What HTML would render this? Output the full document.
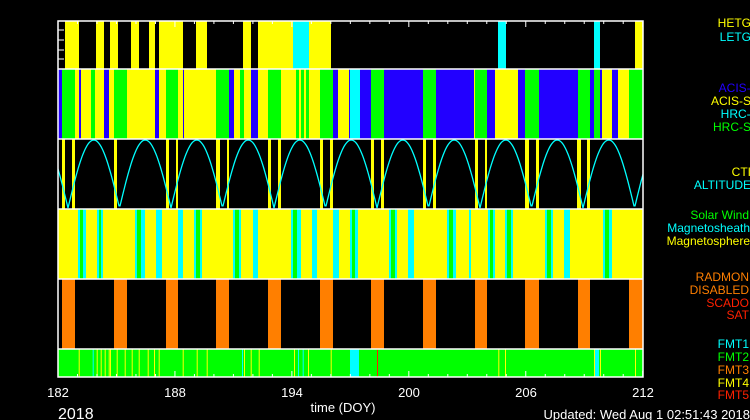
<!DOCTYPE html>
<html><head><meta charset="utf-8"><style>
html,body{margin:0;padding:0;background:#000;width:750px;height:420px;overflow:hidden}
svg{display:block}
text{font-family:"Liberation Sans",sans-serif}
</style></head><body>
<svg id="s" width="750" height="420" xmlns="http://www.w3.org/2000/svg">
<defs><clipPath id="c3"><rect x="58" y="139" width="585" height="70"/></clipPath></defs>
<g id="g"></g>
<path id="alt" clip-path="url(#c3)" fill="none" stroke="#00ffff" stroke-width="1.3"/>
<g fill="none" stroke="#fff" stroke-width="1.5">
<rect x="58" y="21" width="585" height="356"/>
<line x1="58" y1="69" x2="643" y2="69"/><line x1="58" y1="139" x2="643" y2="139"/>
<line x1="58" y1="209" x2="643" y2="209"/><line x1="58" y1="279" x2="643" y2="279"/>
<line x1="58" y1="349" x2="643" y2="349"/>
</g>
<g id="tk" stroke="#fff" stroke-width="1"></g>
<g font-size="13" fill="#fff" text-anchor="middle">
<text x="58" y="397">182</text><text x="175" y="397">188</text><text x="292" y="397">194</text>
<text x="409" y="397">200</text><text x="526" y="397">206</text><text x="643" y="397">212</text>
<text x="343" y="412">time (DOY)</text>
</g>
<text x="58" y="419" font-size="16" fill="#fff">2018</text>
<text x="750" y="419" font-size="13" fill="#fff" text-anchor="end">Updated: Wed Aug  1 02:51:43 2018</text>
<g font-size="12" text-anchor="end">
<text x="751" y="27" fill="#ffff00">HETG</text><text x="751" y="41" fill="#00ffff">LETG</text>
<text x="754" y="92" fill="#2200ff">ACIS-I</text><text x="751" y="105" fill="#ffff00">ACIS-S</text>
<text x="754" y="118" fill="#00ffff">HRC-I</text><text x="751" y="131" fill="#00ff00">HRC-S</text>
<text x="751" y="176" fill="#ffff00">CTI</text><text x="751" y="189" fill="#00ffff">ALTITUDE</text>
<text x="749" y="219" fill="#00ff00">Solar Wind</text><text x="750" y="232" fill="#00ffff">Magnetosheath</text><text x="750" y="245" fill="#ffff00">Magnetosphere</text>
<text x="749" y="281" fill="#ff7f00">RADMON</text><text x="749" y="294" fill="#ff7f00">DISABLED</text>
<text x="749" y="307" fill="#ff2000">SCADO</text><text x="749" y="319" fill="#ff2000">SAT</text>
<text x="749" y="348" fill="#00ffff">FMT1</text><text x="749" y="361" fill="#00ff00">FMT2</text>
<text x="749" y="374" fill="#ff7f00">FMT3</text><text x="749" y="387" fill="#ffff00">FMT4</text>
<text x="749" y="399" fill="#ff2000">FMT5</text>
</g>
</svg>
<script>
var Y='#ffff00',G='#00ff00',B='#2200ff',C='#00ffff',O='#ff7f00',R='#ff2000';
var g=document.getElementById('g'),ns='http://www.w3.org/2000/svg';
function r(x1,x2,y1,y2,c){var e=document.createElementNS(ns,'rect');e.setAttribute('x',x1);e.setAttribute('y',y1);e.setAttribute('width',Math.max(x2-x1,0.8));e.setAttribute('height',y2-y1);e.setAttribute('fill',c);g.appendChild(e);}
// panel1
[[65,79,Y],[96,104,Y],[110,118,Y],[131,139,Y],[149,155,Y],[159,183,Y],[196,207,Y],[243,251,Y],[258,293,Y],[293,309,C],[309,331,Y],[498,506,C],[594,600,C],[635,643,Y]].forEach(function(a){r(a[0],a[1],21,69,a[2]);});
// panel2
[[58,62,B],[62,75,G],[75,79,Y],[79,81,B],[81,91,Y],[91,95,G],[95,104,Y],[104,109,B],[109,114,Y],[114,127,G],[127,155,Y],[155,159,B],[159,166,Y],[166,178,G],[178,183,Y],[183,184,B],[184,216,Y],[216,229,G],[229,234,B],[234,240,Y],[240,244,G],[244,251,Y],[251,258,B],[258,268,Y],[268,281,G],[281,296,Y],[296,299,G],[299,301,Y],[301,304,G],[304,306,Y],[306,309,G],[309,320,Y],[320,333,G],[333,338,B],[338,349,Y],[349,350,B],[350,360,C],[360,371,B],[371,384,G],[384,423,B],[423,436,G],[436,474,B],[474,475,Y],[475,487,G],[487,495,B],[495,518,Y],[518,525,B],[525,539,G],[539,578,B],[578,590,G],[590,594,B],[594,600,G],[600,602,B],[602,612,Y],[612,618,B],[618,629,Y],[629,643,G]].forEach(function(a){r(a[0],a[1],69,139,a[2]);});
// panel3 yellow bars
[[62,65],[72,75],[114,117],[166,169],[176,178],[216,220],[227,229],[268,271],[278,281],[320,323],[330,333],[371,374],[381,384],[423,426],[433,436],[475,478],[485,487],[525,529],[536,539],[577,581],[587,590]].forEach(function(a){r(a[0],a[1],139,209,Y);});
// panel4
r(58,643,209,279,Y);
[[78,80,C],[80,83,G],[83,86,C],[97,99,C],[99,101,G],[101,103,C],[135,137,C],[137,141,G],[141,145,C],[156,162,C],[178,183,C],[194,196,C],[196,200,G],[200,202,C],[233,235,C],[235,239,G],[239,241,C],[253,258,C],[291,293,C],[293,297,G],[297,301,C],[312,317,C],[333,339,C],[350,352,C],[352,355,G],[355,358,C],[389,391,C],[391,395,G],[395,397,C],[408,414,C],[447,449,C],[449,453,G],[453,456,C],[469,471,C],[488,490,C],[490,493,G],[493,495,C],[505,507,C],[507,511,G],[511,513,C],[545,547,C],[547,551,G],[551,553,C],[564,570,C],[603,605,C],[605,609,G],[609,612,C]].forEach(function(a){r(a[0],a[1],209,279,a[2]);});
// panel5
[[62,75],[114,127],[166,178],[216,229],[268,281],[320,333],[371,384],[423,436],[475,487],[525,539],[578,590],[629,643]].forEach(function(a){r(a[0],a[1],279,349,O);});
// panel6
r(58,643,349,377,G);
[78.7,96.7,100.7,104.7,108.7,110,116.7,124.7,131.7,138.7,147.7,154,158.7,182.7,196.7,206.7,244,250.7,258.7,294,308,330.7,498.3,505,594,600,635].forEach(function(x){r(x,x+1,349,377,Y);});
[92.7,242,298,302.7].forEach(function(x){r(x,x+1,349,377,C);});
r(350,359,349,377,C);r(595,599,349,377,C);r(377,378,349,377,R);
// altitude
var d='',P=51.5,x0=68-2*P;
for(var x=56;x<=645;x+=1){var y=208-68*Math.abs(Math.sin(Math.PI*(x-68)/P));d+=(d?'L':'M')+x+' '+y.toFixed(1);}
document.getElementById('alt').setAttribute('d',d);
// ticks
var tk=document.getElementById('tk');
for(var i=0;i<=30;i++){var x=58+i*19.49;var L=(i%6==0)?6:3;
[[377,377-L],[21,21+L]].forEach(function(p){var l=document.createElementNS(ns,'line');l.setAttribute('x1',x);l.setAttribute('x2',x);l.setAttribute('y1',p[0]);l.setAttribute('y2',p[1]);tk.appendChild(l);});}
[30,40,50,59].forEach(function(y){var l=document.createElementNS(ns,'line');l.setAttribute('x1',58);l.setAttribute('x2',64);l.setAttribute('y1',y);l.setAttribute('y2',y);tk.appendChild(l);});
</script>
</body></html>
